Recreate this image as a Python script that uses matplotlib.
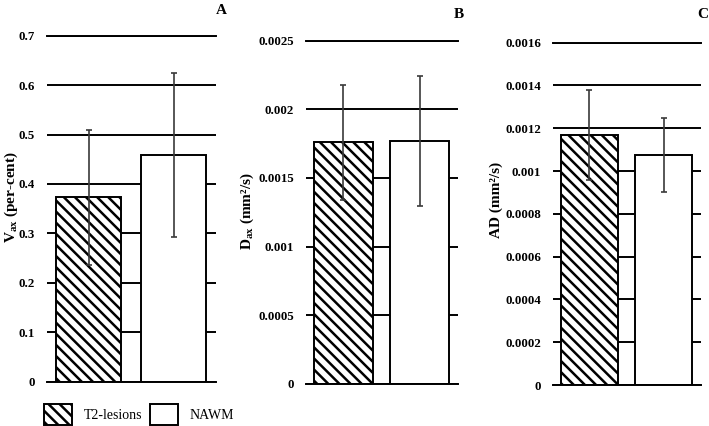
import matplotlib
matplotlib.use("Agg")
import matplotlib.pyplot as plt
from matplotlib.patches import Patch
from matplotlib.ticker import FuncFormatter

plt.rcParams['font.family'] = ['Liberation Serif', 'DejaVu Serif']
plt.rcParams['mathtext.fontset'] = 'custom'
plt.rcParams['mathtext.rm'] = 'Liberation Serif:bold'
plt.rcParams['mathtext.bf'] = 'Liberation Serif:bold'
plt.rcParams['hatch.linewidth'] = 1.8

# data
groups = ['T2-lesions', 'NAWM']
vax_mean = [0.373, 0.459]
vax_err = [0.136, 0.166]
dax_mean = [0.001759, 0.001767]
dax_err = [0.000420, 0.000475]
ad_mean = [0.001169, 0.001075]
ad_err = [0.000209, 0.000175]

vax_ticks = [0, 0.1, 0.2, 0.3, 0.4, 0.5, 0.6, 0.7]
dax_ticks = [0, 0.0005, 0.001, 0.0015, 0.002, 0.0025]
ad_ticks = [0, 0.0002, 0.0004, 0.0006, 0.0008, 0.001, 0.0012, 0.0014, 0.0016]

HATCH = '\\\\\\'

W, H = 709, 426
fig = plt.figure(figsize=(W / 100, H / 100), dpi=100)


def px_axes(left, right, top, bottom):
    return fig.add_axes([left / W, (H - bottom) / H, (right - left) / W, (bottom - top) / H])


def draw_panel(ax, means, errs, ticks, ylabel, letter, lx, ly, letx, lety):
    ax.set_ylim(0, ticks[-1])
    ax.set_xlim(-0.49, 1.5)
    ax.set_yticks(ticks)
    ax.yaxis.set_major_formatter(FuncFormatter(lambda v, p: '%g' % v))
    ax.grid(axis='y', color='black', linewidth=1.4)
    ax.set_axisbelow(True)
    for s in ['left', 'right']:
        ax.spines[s].set_visible(False)
    ax.spines['bottom'].set_linewidth(1.4)
    ax.spines['top'].set_linewidth(1.4)
    ax.tick_params(axis='y', length=0, pad=8.5, labelsize=9.3)
    ax.set_xticks([])
    for lab in ax.get_yticklabels():
        lab.set_fontweight('bold')
    ax.bar([0], [means[0]], width=0.77, color='white', edgecolor='black',
           linewidth=1.4, hatch=HATCH, zorder=2)
    ax.bar([1], [means[1]], width=0.77, color='white', edgecolor='black',
           linewidth=1.4, zorder=2)
    ax.errorbar([0, 1], means, yerr=errs, fmt='none', ecolor='#3a3a3a',
                elinewidth=1.2, capsize=2.5, capthick=1.2, zorder=3)
    fig.text(lx / W, 1 - ly / H, ylabel, rotation=90, ha='center', va='center',
             fontsize=11, fontweight='bold')
    fig.text(letx / W, 1 - lety / H, letter, ha='center', va='center',
             fontsize=11, fontweight='bold')


ax1 = px_axes(47, 216, 35.7, 381.7)
draw_panel(ax1, vax_mean, vax_err, vax_ticks, r'V$_{\mathrm{ax}}$ (per-cent)', 'A',
           11, 197, 221, 11)

ax2 = px_axes(305.7, 457.7, 40.7, 383.7)
draw_panel(ax2, dax_mean, dax_err, dax_ticks, r'D$_{\mathrm{ax}}$ (mm²/s)', 'B',
           247, 211, 459, 15)

ax3 = px_axes(552.7, 700.7, 42.7, 385)
draw_panel(ax3, ad_mean, ad_err, ad_ticks, 'AD (mm²/s)', 'C',
           496, 200, 703, 15)

handles = [Patch(facecolor='white', edgecolor='black', hatch=HATCH, linewidth=1.4),
           Patch(facecolor='white', edgecolor='black', linewidth=1.4)]
fig.legend(handles, groups, loc='lower left', bbox_to_anchor=(44 / W, 1 / H),
           ncol=2, frameon=False, fontsize=10, handlelength=2.0, handleheight=2.0,
           handletextpad=0.85, columnspacing=0.6, borderpad=0, borderaxespad=0)

fig.savefig('out.png', dpi=100)
